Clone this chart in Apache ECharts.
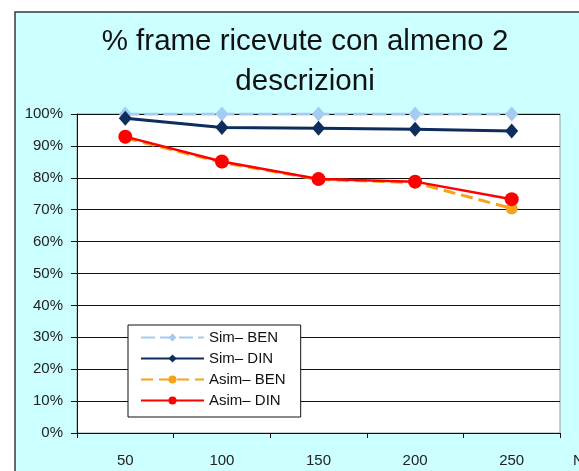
<!DOCTYPE html>
<html>
<head>
<meta charset="utf-8">
<script src="https://cdn.jsdelivr.net/npm/echarts@6/dist/echarts.min.js"></script>
<style>
  html, body { margin: 0; padding: 0; background: #ffffff; }
  #chart { width: 579px; height: 471px; }
</style>
</head>
<body>
<div id="chart"></div>
<script>
// Number of nodes (x categories)
const categories = ['50', '100', '150', '200', '250'];

// Percentage of frames received with at least 2 descriptions
const simBen  = [100, 100, 100, 100, 100];
const simDin  = [98.7, 95.8, 95.5, 95.2, 94.7];
const asimBen = [92.5, 84.8, 79.5, 78.5, 70.4];
const asimDin = [92.9, 85.1, 79.6, 78.8, 73.3];

const yTicks = [0, 10, 20, 30, 40, 50, 60, 70, 80, 90, 100];

const FONT = '"Liberation Sans", Arial, sans-serif';

const chart = echarts.init(document.getElementById('chart'), null, { renderer: 'canvas' });

chart.setOption({
  backgroundColor: '#ffffff',
  animation: false,
  textStyle: { fontFamily: FONT },
  graphic: [{
    type: 'rect',
    z: -10,
    shape: { x: 15, y: 12, width: 620, height: 520 },
    style: { fill: '#CCFFFF', stroke: '#3a3a3a', lineWidth: 1.5 }
  }],
  title: {
    text: '% frame ricevute con almeno 2\ndescrizioni',
    left: 300,
    top: 17,
    textAlign: 'center',
    textStyle: {
      fontFamily: FONT,
      fontSize: 29.5,
      fontWeight: 'normal',
      lineHeight: 40,
      color: '#111111'
    }
  },
  legend: {
    orient: 'vertical',
    left: 128,
    top: 325,
    padding: [5, 15, 9, 12],
    itemWidth: 63,
    itemHeight: 10,
    itemGap: 6,
    backgroundColor: '#ffffff',
    borderColor: '#111111',
    borderWidth: 1,
    borderRadius: 0,
    textStyle: { fontFamily: FONT, fontSize: 15, color: '#111111' },
    data: ['Sim\u2013 BEN', 'Sim\u2013 DIN', 'Asim\u2013 BEN', 'Asim\u2013 DIN']
  },
  grid: {
    left: 77,
    right: 19,
    top: 114,
    bottom: 38,
    outerBoundsMode: 'none',
    containLabel: false,
    show: true,
    backgroundColor: '#ffffff',
    borderColor: '#9a9a9a',
    borderWidth: 1
  },
  xAxis: {
    type: 'category',
    data: categories,
    boundaryGap: true,
    name: 'N',
    nameLocation: 'end',
    nameGap: 13,
    nameTextStyle: {
      fontFamily: FONT, fontSize: 15, color: '#222222',
      verticalAlign: 'top', padding: [20, 0, 0, 0]
    },
    axisLine: { show: true, lineStyle: { color: '#111111', width: 1 } },
    axisTick: { show: true, length: 5, lineStyle: { color: '#111111' } },
    axisLabel: { fontFamily: FONT, fontSize: 15, color: '#222222', margin: 20 },
    splitLine: { show: false }
  },
  yAxis: {
    type: 'value',
    min: 0,
    max: 100,
    interval: 10,
    axisLine: { show: true, lineStyle: { color: '#111111', width: 1 } },
    axisTick: { show: true, length: 6, lineStyle: { color: '#111111' } },
    axisLabel: {
      fontFamily: FONT, fontSize: 15, color: '#222222', margin: 14,
      formatter: v => (yTicks.indexOf(v) >= 0 ? v + '%' : '')
    },
    splitLine: { show: true, lineStyle: { color: '#111111', width: 1 } }
  },
  series: [
    {
      name: 'Sim\u2013 BEN',
      type: 'line',
      data: simBen,
      symbol: 'diamond',
      symbolSize: [13, 15],
      itemStyle: { color: '#A6CBF2' },
      lineStyle: { color: '#A6CBF2', width: 3, type: [14, 5] },
      z: 3
    },
    {
      name: 'Sim\u2013 DIN',
      type: 'line',
      data: simDin,
      symbol: 'diamond',
      symbolSize: [13, 15],
      itemStyle: { color: '#0D2E5C' },
      lineStyle: { color: '#0D2E5C', width: 3 },
      z: 4
    },
    {
      name: 'Asim\u2013 BEN',
      type: 'line',
      data: asimBen,
      symbol: 'circle',
      symbolSize: 12,
      itemStyle: { color: '#F7A21B' },
      lineStyle: { color: '#F7A21B', width: 3, type: [12, 6] },
      z: 5
    },
    {
      name: 'Asim\u2013 DIN',
      type: 'line',
      data: asimDin,
      symbol: 'circle',
      symbolSize: 14,
      itemStyle: { color: '#FF0000' },
      lineStyle: { color: '#FF0000', width: 2.5 },
      z: 6
    }
  ]
});
</script>
</body>
</html>
